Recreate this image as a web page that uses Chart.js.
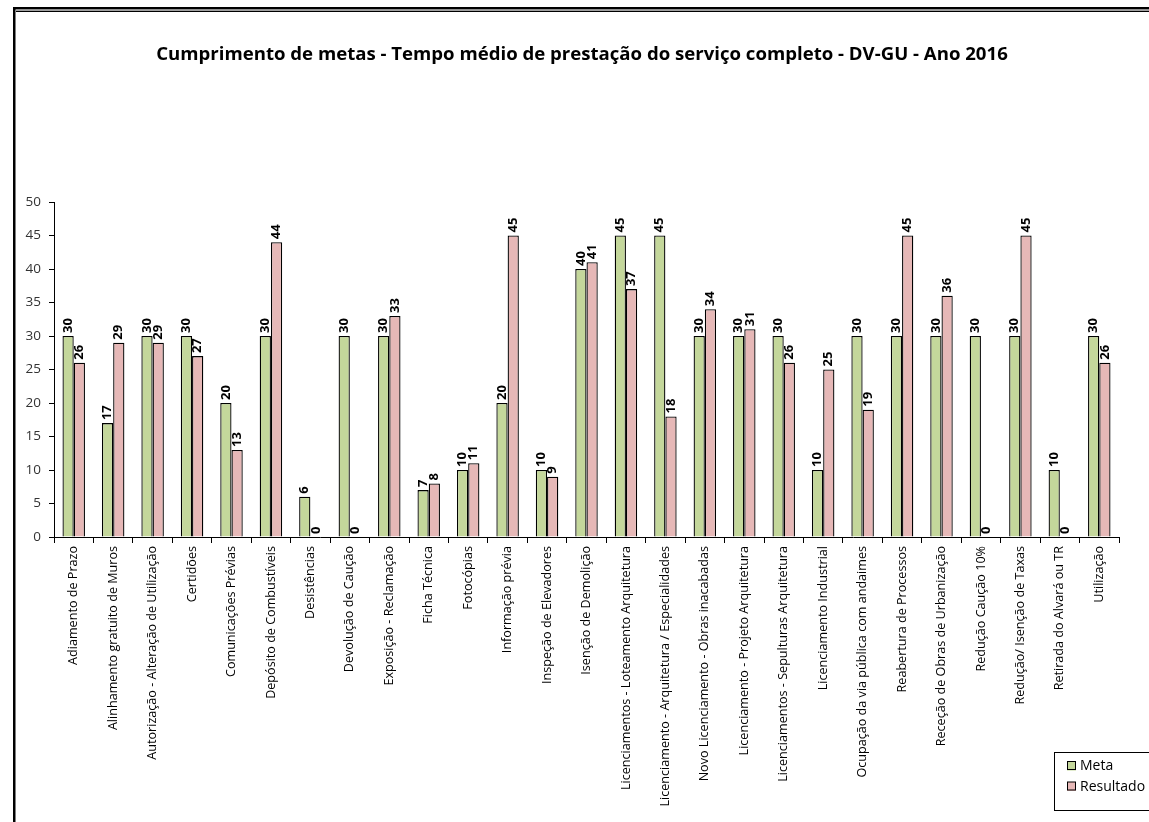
<!DOCTYPE html>
<html>
<head>
<meta charset="utf-8">
<script src="https://cdn.jsdelivr.net/npm/chart.js@4.4.1/dist/chart.umd.min.js"></script>
<style>
  html, body { margin: 0; padding: 0; background: #ffffff; }
  #wrap { position: relative; width: 1149px; height: 822px; overflow: hidden; }
  canvas { display: block; }
</style>
</head>
<body>
<div id="wrap"><canvas id="c" width="1149" height="822"></canvas></div>
<script>
const TITLE = "Cumprimento de metas - Tempo médio de prestação do serviço completo - DV-GU - Ano 2016";

const categories = [
  "Adiamento de Prazo",
  "Alinhamento gratuito de Muros",
  "Autorização - Alteração de Utilização",
  "Certidões",
  "Comunicações Prévias",
  "Depósito de Combustíveis",
  "Desistências",
  "Devolução de Caução",
  "Exposição - Reclamação",
  "Ficha Técnica",
  "Fotocópias",
  "Informação prévia",
  "Inspeção de Elevadores",
  "Isenção de Demolição",
  "Licenciamentos - Loteamento Arquitetura",
  "Licenciamento - Arquitetura / Especialidades",
  "Novo Licenciamento - Obras inacabadas",
  "Licenciamento - Projeto Arquitetura",
  "Licenciamentos - Sepulturas Arquitetura",
  "Licenciamento Industrial",
  "Ocupação da via pública com andaimes",
  "Reabertura de Processos",
  "Receção de Obras de Urbanização",
  "Redução Caução 10%",
  "Redução/ Isenção de Taxas",
  "Retirada do Alvará ou TR",
  "Utilização"
];

const meta =      [30, 17, 30, 30, 20, 30, 6, 30, 30, 7, 10, 20, 10, 40, 45, 45, 30, 30, 30, 10, 30, 30, 30, 30, 30, 10, 30];
const resultado = [26, 29, 29, 27, 13, 44, 0,  0, 33, 8, 11, 45,  9, 41, 37, 18, 34, 31, 26, 25, 19, 45, 36,  0, 45,  0, 26];

const yTicks = [0, 5, 10, 15, 20, 25, 30, 35, 40, 45, 50];

const FONT = "'Open Sans', 'Noto Sans', sans-serif";

const framePlugin = {
  id: 'frame',
  beforeDraw(chart) {
    const ctx = chart.ctx;
    ctx.save();
    ctx.fillStyle = '#ffffff';
    ctx.fillRect(0, 0, chart.width, chart.height);
    ctx.fillStyle = '#000000';
    ctx.fillRect(13, 7, chart.width - 13, 2.5);
    ctx.fillStyle = '#a0a0a0';
    ctx.fillRect(16, 9.5, chart.width - 16, 1.5);
    ctx.fillStyle = '#000000';
    ctx.fillRect(16, 11, chart.width - 16, 1);
    ctx.fillRect(13, 7, 2.5, chart.height - 7);
    ctx.restore();
  },
  afterDraw(chart) {
    const ctx = chart.ctx;
    ctx.save();
    // title
    ctx.fillStyle = '#000000';
    ctx.font = "bold 18.6px " + FONT;
    ctx.textAlign = 'center';
    ctx.textBaseline = 'middle';
    ctx.fillText(TITLE, 582, 55);
    // legend
    const lx = 1054, ly = 752, lw = 110, lh = 58;
    ctx.strokeStyle = '#000000';
    ctx.lineWidth = 1;
    ctx.strokeRect(lx + 0.5, ly + 0.5, lw, lh);
    ctx.font = "14px " + FONT;
    ctx.textAlign = 'left';
    chart.data.datasets.forEach((ds, i) => {
      const cy = 766 + i * 20.5;
      ctx.fillStyle = ds.backgroundColor;
      ctx.fillRect(1067, cy - 4.5, 9, 9);
      ctx.strokeStyle = '#000000';
      ctx.strokeRect(1067.5, cy - 4.5, 8, 8);
      ctx.fillStyle = '#000000';
      ctx.fillText(ds.label, 1080, cy + 0.5);
    });
    ctx.restore();
  }
};

const valueLabels = {
  id: 'valueLabels',
  afterDatasetsDraw(chart) {
    const ctx = chart.ctx;
    ctx.save();
    ctx.font = "bold 13px " + FONT;
    ctx.fillStyle = '#000000';
    ctx.textAlign = 'left';
    ctx.textBaseline = 'middle';
    chart.data.datasets.forEach((ds, di) => {
      const m = chart.getDatasetMeta(di);
      m.data.forEach((el, i) => {
        const v = ds.data[i];
        ctx.save();
        ctx.translate(el.x, el.y - 3);
        ctx.rotate(-Math.PI / 2);
        ctx.fillText(String(v), 0, 0);
        ctx.restore();
      });
    });
    ctx.restore();
  }
};

new Chart(document.getElementById('c'), {
  type: 'bar',
  data: {
    labels: categories,
    datasets: [
      { label: 'Meta', data: meta, backgroundColor: '#C4D79B', borderColor: '#000000', borderWidth: 1.3,
        categoryPercentage: 0.57, barPercentage: 1.0 },
      { label: 'Resultado', data: resultado, backgroundColor: '#E6B8B7', borderColor: '#000000', borderWidth: 1.3,
        categoryPercentage: 0.57, barPercentage: 1.0 }
    ]
  },
  options: {
    responsive: false,
    animation: false,
    devicePixelRatio: 1,
    layout: { padding: { left: 0, right: 30, top: 202, bottom: 0 } },
    plugins: {
      legend: { display: false },
      title: { display: false },
      tooltip: { enabled: false }
    },
    scales: {
      x: {
        grid: { display: true, drawOnChartArea: false, drawTicks: true, tickLength: 6, color: '#000000', offset: true },
        border: { display: true, color: '#000000', width: 1 },
        ticks: {
          autoSkip: false, maxRotation: 90, minRotation: 90, padding: 3,
          color: '#000000', font: { family: FONT, size: 12.6 }
        },
        afterFit(scale) { scale.height = 285; }
      },
      y: {
        min: 0, max: 50,
        afterBuildTicks(scale) { scale.ticks = yTicks.map(v => ({ value: v })); },
        grid: { display: true, drawOnChartArea: false, drawTicks: true, tickLength: 5, color: '#000000' },
        border: { display: true, color: '#000000', width: 1 },
        ticks: { padding: 8, color: '#333333', font: { family: FONT, size: 13.5 } },
        afterFit(scale) { scale.width = 54; }
      }
    }
  },
  plugins: [framePlugin, valueLabels]
});
</script>
</body>
</html>
